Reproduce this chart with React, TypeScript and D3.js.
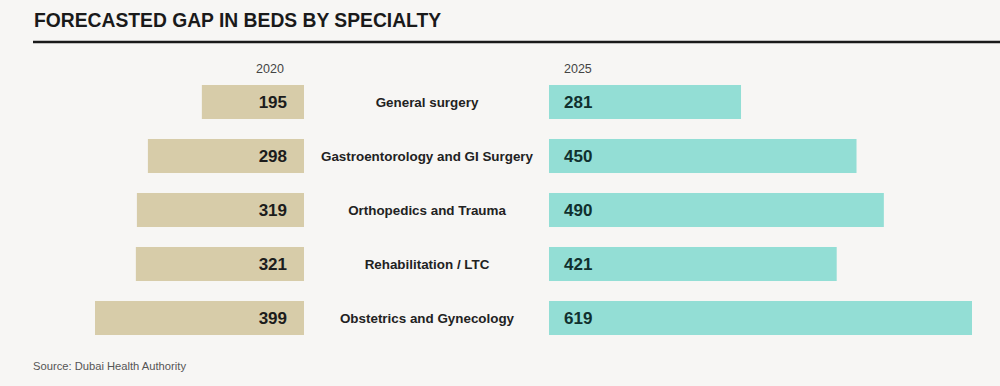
import React from "react";
import * as d3 from "d3";

const categories = [
  "General surgery",
  "Gastroentorology and GI Surgery",
  "Orthopedics and Trauma",
  "Rehabilitation / LTC",
  "Obstetrics and Gynecology",
];
const values2020 = [195, 298, 319, 321, 399];
const values2025 = [281, 450, 490, 421, 619];
const yearLabels = ["2020", "2025"];

const W = 1000;
const H = 386;
const FONT = "'Liberation Sans', Arial, Helvetica, sans-serif";

export default function App() {
  const y = d3
    .scaleBand<string>()
    .domain(categories)
    .range([75, 345])
    .paddingInner(0.37)
    .paddingOuter(0.185);

  const leftEdge = 304;
  const rightStart = 549;
  const xLeft = d3.scaleLinear().domain([0, 399]).range([0, 209]);
  const xRight = d3.scaleLinear().domain([0, 619]).range([0, 423]);

  return (
    <svg
      width={W}
      height={H}
      style={{ position: "absolute", left: 0, top: 0, fontFamily: FONT }}
    >
      <rect x={0} y={0} width={W} height={H} fill="#f7f6f4" />
      <text x={34} y={27} fontSize={19.3} fontWeight="bold" fill="#1a1a1a">
        FORECASTED GAP IN BEDS BY SPECIALTY
      </text>
      <line x1={33} x2={W} y1={42} y2={42} stroke="#1a1a1a" strokeWidth={2.5} />

      <text x={270} y={73} fontSize={12.5} fill="#444" textAnchor="middle">
        {yearLabels[0]}
      </text>
      <text x={564} y={73} fontSize={12.5} fill="#444">
        {yearLabels[1]}
      </text>

      {categories.map((c, i) => {
        const yy = y(c)!;
        const bh = y.bandwidth();
        const wl = xLeft(values2020[i]);
        const wr = xRight(values2025[i]);
        return (
          <g key={c}>
            <rect x={leftEdge - wl} y={yy} width={wl} height={bh} fill="#d7cca9" />
            <text
              x={287}
              y={yy + bh / 2 + 6}
              fontSize={17}
              fontWeight="bold"
              fill="#1c1c1c"
              textAnchor="end"
            >
              {values2020[i]}
            </text>
            <text
              x={427}
              y={yy + bh / 2 + 4.5}
              fontSize={13.4}
              fontWeight="bold"
              fill="#222"
              textAnchor="middle"
            >
              {c}
            </text>
            <rect x={rightStart} y={yy} width={wr} height={bh} fill="#93ded5" />
            <text
              x={564}
              y={yy + bh / 2 + 6}
              fontSize={17}
              fontWeight="bold"
              fill="#10302e"
            >
              {values2025[i]}
            </text>
          </g>
        );
      })}

      <text x={33} y={370} fontSize={11.2} fill="#555">
        Source: Dubai Health Authority
      </text>
    </svg>
  );
}
